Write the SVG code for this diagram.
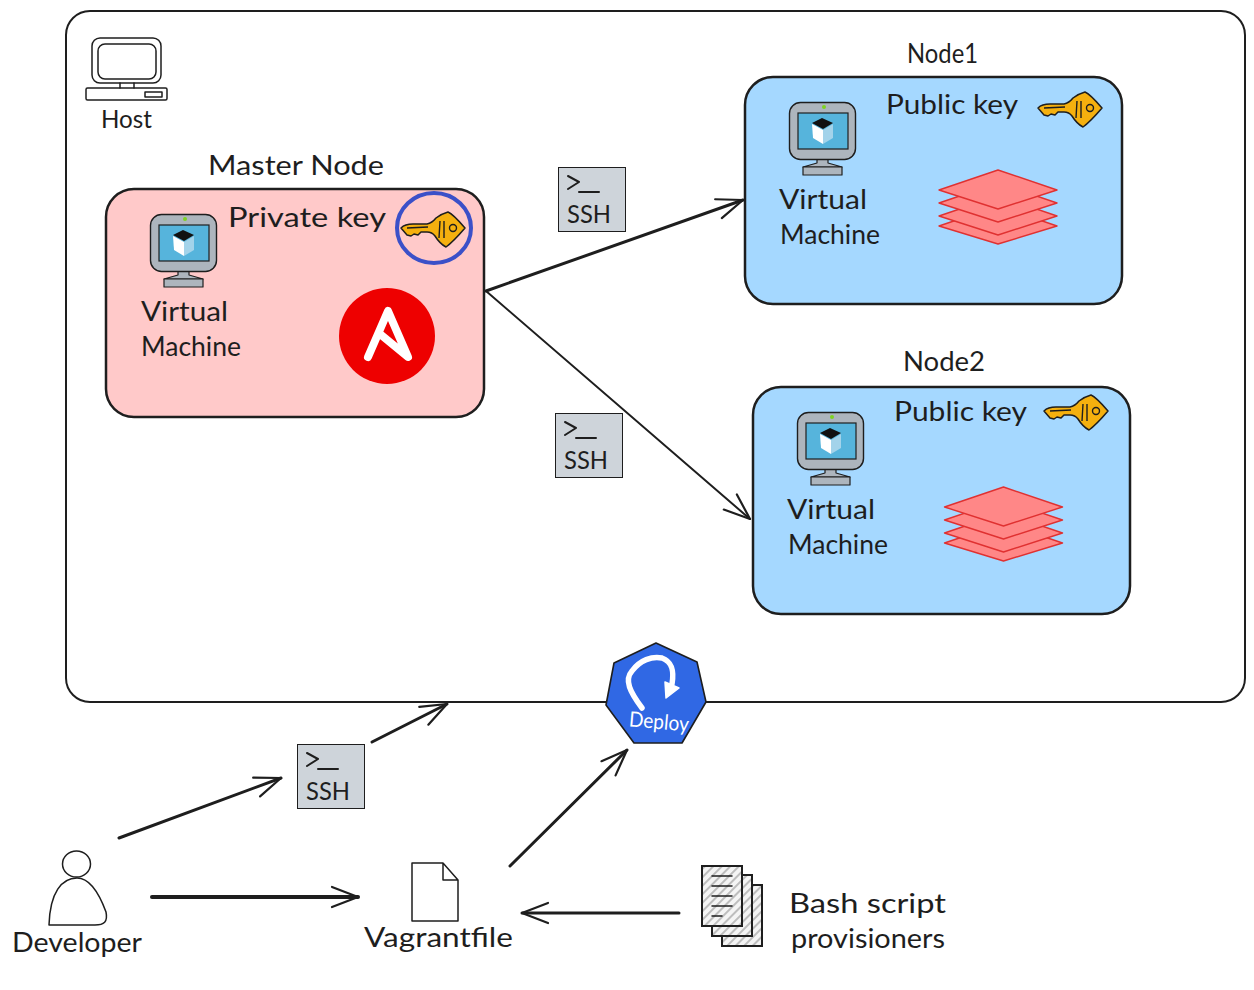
<svg xmlns="http://www.w3.org/2000/svg" xmlns:xlink="http://www.w3.org/1999/xlink" width="1254" height="990" viewBox="0 0 1254 990">
<style>
text{font-family:"Lato","Liberation Sans",sans-serif;fill:#1e1e1e;font-size:26px}
.ln{fill:none;stroke:#1e1e1e;stroke-width:1.5;stroke-linecap:round;stroke-linejoin:round}
.box{stroke:#1e1e1e;stroke-width:2.5}
.con{fill:none;stroke:#1e1e1e;stroke-linecap:round;marker-end:url(#arrow)}
.thin{stroke:#1e1e1e;stroke-width:1.2;stroke-linejoin:round}
.ssh{fill:#ced4da;stroke:#1e1e1e;stroke-width:1}
.layer{fill:#ff8787;stroke:#e03131;stroke-width:1.4;stroke-linejoin:round}
.page{fill:url(#hatch);stroke:#1e1e1e;stroke-width:2}
</style>
<defs>
<marker id="arrow" markerUnits="userSpaceOnUse" markerWidth="32" markerHeight="28" refX="30" refY="14" orient="auto" overflow="visible">
<path d="M4,4 L30,14 L4,24" fill="none" stroke="#1e1e1e" stroke-width="2.2" stroke-linecap="round" stroke-linejoin="round"/>
</marker>
<pattern id="hatch" width="6" height="6" patternUnits="userSpaceOnUse" patternTransform="rotate(45)">
<rect width="6" height="6" fill="#f4f4f4"/><rect width="2" height="6" fill="#bdbdbd"/>
</pattern>
<g id="monitor">
<path d="M28,57 L39,57 L39,61 L53,65 L14,65 L28,61 Z" fill="#adb5bd" class="thin"/>
<rect x="14" y="65" width="39" height="8" fill="#adb5bd" class="thin"/>
<rect x="0.5" y="0.5" width="66" height="57" rx="11" fill="#adb5bd" stroke="#1e1e1e" stroke-width="1.4"/>
<rect x="9" y="11" width="50" height="36" fill="#56b4dc" stroke="#1e1e1e" stroke-width="1.2"/>
<circle cx="35" cy="5" r="2" fill="#7ed321"/>
<path d="M23,21 L33,16 L44,21 L34,27 Z" fill="#111"/>
<path d="M23,22 L34,28 L34,42 L24,36 Z" fill="#fff"/>
<path d="M44,22 L34,28 L34,42 L44,36 Z" fill="#a3d3ea"/>
</g>
<g id="key">
<path d="M47,1 Q52,3 64,17 Q52,31 45,36 Q39,33 34,25 Q31,21 26,21 L20,21 L17,24 L13,23 L10,25 L6,24 L0,17 Q4,13 12,13 L26,13 Q31,12 35,7 Q40,3 47,1 Z" fill="#f5b00e" stroke="#1e1e1e" stroke-width="1.5" stroke-linejoin="round"/>
<path d="M6,17 L27,16 M39,10 L38,27 M43,10 L43,27" fill="none" stroke="#1e1e1e" stroke-width="1.4"/>
<circle cx="52" cy="17" r="3.5" fill="none" stroke="#1e1e1e" stroke-width="1.4"/>
</g>
<g id="stack">
<path class="layer" d="M0,56 L59,36 L118,56 L59,74 Z"/>
<path class="layer" d="M0,46 L59,26 L118,46 L59,65 Z"/>
<path class="layer" d="M0,33 L59,13 L118,33 L59,52 Z"/>
<path class="layer" d="M0,20 L59,0 L118,20 L59,39 Z"/>
</g>
<g id="sshbox">
<rect class="ssh" x="0.5" y="0.5" width="67" height="64"/>
<path class="ln" style="stroke-width:2" d="M10,9 L21,15 L10,22 M21,25 L41,25"/>
<text x="9" y="56" textLength="44" lengthAdjust="spacingAndGlyphs" style="font-size:25px">SSH</text>
</g>
</defs>
<rect width="1254" height="990" fill="#fff"/>

<g id="host">
<rect x="66" y="11" width="1179" height="691" rx="24" fill="#fff" stroke="#1e1e1e" stroke-width="2"/>
<rect class="ln" x="92" y="38" width="69" height="45" rx="8"/>
<rect class="ln" x="98" y="44" width="58" height="35" rx="7"/>
<path class="ln" d="M120,83 L120,88 M134,83 L134,88"/>
<rect class="ln" x="86" y="88" width="81" height="12" rx="1.5"/>
<rect class="ln" x="145" y="92" width="17" height="5"/>
<text x="101" y="128" textLength="51" lengthAdjust="spacingAndGlyphs" style="font-size:25px">Host</text>
</g>

<g id="connectors">
<path class="con" stroke-width="3" d="M486,291 L743,200"/>
<path class="con" stroke-width="2" d="M486,291 L750,519"/>
<path class="con" stroke-width="3" d="M372,742 L447,704"/>
<path class="con" stroke-width="3" d="M119,838 L281,778"/>
<path class="con" stroke-width="4" d="M152,897 L358,897"/>
<path class="con" stroke-width="3" d="M510,866 L627,750"/>
<path class="con" stroke-width="3" d="M679,913 L522,913"/>
</g>

<g id="master-label"><text x="208" y="175" textLength="176" lengthAdjust="spacingAndGlyphs" style="font-size:27px">Master Node</text></g>
<g id="master-node">
<rect class="box" x="106" y="189" width="378" height="228" rx="28" fill="#ffc9c9"/>
<use xlink:href="#monitor" href="#monitor" x="150" y="214"/>
<text x="228" y="227" textLength="158" lengthAdjust="spacingAndGlyphs" style="font-size:27px">Private key</text>
<use xlink:href="#key" href="#key" x="401" y="211"/>
<ellipse cx="434" cy="228" rx="37" ry="35" fill="none" stroke="#3b50c8" stroke-width="4"/>
<text x="141" y="321" textLength="87" lengthAdjust="spacingAndGlyphs">Virtual</text>
<text x="141" y="356" textLength="100" lengthAdjust="spacingAndGlyphs">Machine</text>
<circle cx="387" cy="336" r="48" fill="#ee0000"/>
<path d="M368,357 L388,311 L408,357 L380,334" fill="none" stroke="#fff" stroke-width="8" stroke-linecap="round" stroke-linejoin="round"/>
</g>

<g id="node1-label"><text x="907" y="63" textLength="71" lengthAdjust="spacingAndGlyphs">Node1</text></g>
<g id="node1">
<rect class="box" x="745" y="77" width="377" height="227" rx="28" fill="#a5d8ff"/>
<use xlink:href="#monitor" href="#monitor" x="789" y="102"/>
<text x="886" y="114" textLength="132" lengthAdjust="spacingAndGlyphs">Public key</text>
<use xlink:href="#key" href="#key" x="1038" y="91"/>
<text x="779" y="209" textLength="88" lengthAdjust="spacingAndGlyphs">Virtual</text>
<text x="780" y="244" textLength="100" lengthAdjust="spacingAndGlyphs">Machine</text>
<use xlink:href="#stack" href="#stack" x="939" y="170"/>
</g>

<g id="node2-label"><text x="903" y="371" textLength="82" lengthAdjust="spacingAndGlyphs">Node2</text></g>
<g id="node2">
<rect class="box" x="753" y="387" width="377" height="227" rx="28" fill="#a5d8ff"/>
<use xlink:href="#monitor" href="#monitor" x="797" y="412"/>
<text x="894" y="421" textLength="133" lengthAdjust="spacingAndGlyphs">Public key</text>
<use xlink:href="#key" href="#key" x="1044" y="394"/>
<text x="787" y="519" textLength="88" lengthAdjust="spacingAndGlyphs">Virtual</text>
<text x="788" y="554" textLength="100" lengthAdjust="spacingAndGlyphs">Machine</text>
<use xlink:href="#stack" href="#stack" x="944.5" y="487"/>
</g>

<g id="ssh-1"><use xlink:href="#sshbox" href="#sshbox" x="558" y="167"/></g>
<g id="ssh-2"><use xlink:href="#sshbox" href="#sshbox" x="555" y="413"/></g>
<g id="ssh-3"><use xlink:href="#sshbox" href="#sshbox" x="297" y="744"/></g>

<g id="deploy">
<path d="M656,643 L697,662 L706,702 L682,743 L634,743 L606,705 L614,663 Z" fill="#3068e4" stroke="#1e1e1e" stroke-width="1.6" stroke-linejoin="round"/>
<path d="M642,708 C630,692 624,680 632,671 C640,660 652,656 662,658 C673,662 674,672 672,684" fill="none" stroke="#fff" stroke-width="5.5" stroke-linecap="round"/>
<path d="M665,682 L679,688 L666,698 Z" fill="#fff" stroke="#fff" stroke-width="1.5" stroke-linejoin="round"/>
<text x="629" y="729" textLength="60" lengthAdjust="spacingAndGlyphs" transform="rotate(5 659 722)" style="font-size:21px;fill:#fff">Deploy</text>
</g>

<g id="developer">
<ellipse class="ln" cx="76.5" cy="864" rx="14" ry="13"/>
<path class="ln" d="M49,925 C50,892 62,878 77,878 C90,878 99,893 106,912 C108,922 104,925 95,925 Z"/>
<text x="12" y="952" textLength="130" lengthAdjust="spacingAndGlyphs">Developer</text>
</g>

<g id="vagrantfile">
<path class="ln" d="M412,863 L443,863 L458,880 L458,921 L412,921 Z M443,863 L443,880 L458,880"/>
<text x="364" y="947" textLength="149" lengthAdjust="spacingAndGlyphs" style="font-size:27px">Vagrantfile</text>
</g>

<g id="bash-scripts">
<rect class="page" x="722" y="885" width="40" height="61"/>
<rect class="page" x="712" y="875" width="40" height="61"/>
<rect class="page" x="702" y="866" width="40" height="60"/>
<path class="ln" d="M712,876 L732,876 M712,886 L732,886 M712,896 L732,896 M712,906 L732,906 M712,916 L722,916"/>
<text x="789" y="913" textLength="157" lengthAdjust="spacingAndGlyphs">Bash script</text>
<text x="791" y="948" textLength="154" lengthAdjust="spacingAndGlyphs">provisioners</text>
</g>
</svg>
